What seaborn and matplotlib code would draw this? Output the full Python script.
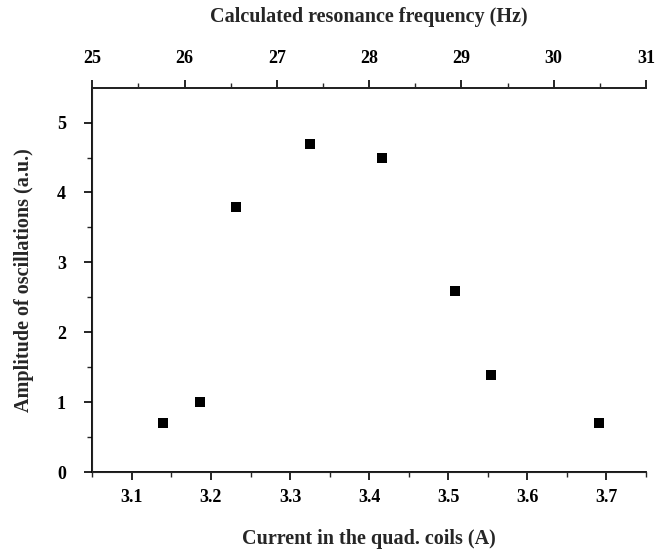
import matplotlib
matplotlib.use("Agg")
import matplotlib.pyplot as plt
from matplotlib.ticker import MultipleLocator
import seaborn as sns
import pandas as pd

current_A = [3.139, 3.186, 3.232, 3.325, 3.416, 3.508, 3.554, 3.691]
amplitude = [0.70, 1.00, 3.79, 4.69, 4.49, 2.59, 1.39, 0.70]
freq_range = [25, 31]

xlabel_bottom = "Current in the quad. coils (A)"
xlabel_top = "Calculated resonance frequency (Hz)"
ylabel = "Amplitude of oscillations (a.u.)"

sns.set_style("ticks")
plt.rcParams["font.family"] = ["Liberation Serif", "DejaVu Serif"]
plt.rcParams["font.weight"] = "bold"

df = pd.DataFrame({"current": current_A, "amp": amplitude})

fig = plt.figure(figsize=(6.71, 5.55), dpi=100)
ax = fig.add_axes([0.1376, 0.149, 0.8251, 0.692])
sns.scatterplot(data=df, x="current", y="amp", marker="s", s=45, color="black",
                edgecolor="black", linewidth=0, ax=ax, zorder=3)

ax.set_xlim(3.05, 3.75)
ax.set_ylim(0, 5.49)
ax.xaxis.set_minor_locator(MultipleLocator(0.05))
ax.yaxis.set_major_locator(MultipleLocator(1))
ax.yaxis.set_minor_locator(MultipleLocator(0.5))
ax.set_xticks([3.1, 3.2, 3.3, 3.4, 3.5, 3.6, 3.7])
ax.set_xticklabels(["3.1", "3.2", "3.3", "3.4", "3.5", "3.6", "3.7"])

for side in ["left", "bottom", "top"]:
    ax.spines[side].set_linewidth(1.3)
    ax.spines[side].set_color("black")
ax.spines["right"].set_visible(False)

ax.tick_params(axis="both", which="major", direction="out", length=6, width=1.2,
               labelsize=13, colors="black")
ax.tick_params(axis="both", which="minor", direction="out", length=3.5, width=1.0)
ax.tick_params(axis="x", pad=6)
ax.tick_params(axis="y", pad=13)

ax.set_xlabel(xlabel_bottom, fontsize=14.5, fontweight="bold")
ax.xaxis.set_label_coords(0.5, -0.148)
ax.set_ylabel(ylabel, fontsize=14.5, fontweight="bold")
ax.yaxis.set_label_coords(-0.105, 0.5)

ax2 = ax.twiny()
ax2.set_xlim(freq_range[0], freq_range[1])
ax2.xaxis.set_major_locator(MultipleLocator(1))
ax2.xaxis.set_minor_locator(MultipleLocator(0.5))
ax2.spines["right"].set_visible(False)
ax2.spines["top"].set_linewidth(1.3)
ax2.tick_params(axis="x", which="major", direction="out", length=6, width=1.2,
                labelsize=13, pad=9, colors="black")
ax2.tick_params(axis="x", which="minor", direction="out", length=3.5, width=1.0)
ax2.set_xlabel(xlabel_top, fontsize=14.5, fontweight="bold")
ax2.xaxis.set_label_coords(0.5, 1.172)

for lab in ax.get_xticklabels() + ax.get_yticklabels() + ax2.get_xticklabels():
    lab.set_fontweight("bold")

fig.savefig("out.png", dpi=100, facecolor="white")
